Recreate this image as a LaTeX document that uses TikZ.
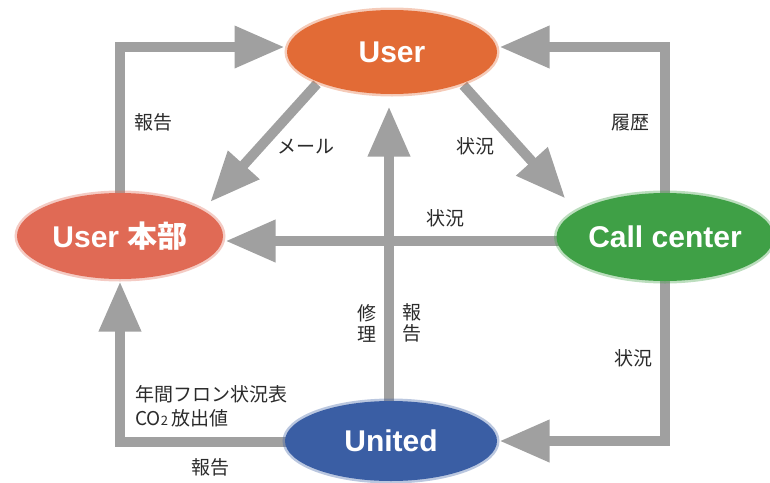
\documentclass[tikz,border=0pt]{standalone}
\usepackage{fontspec}
\setmainfont{Liberation Sans}
\newfontfamily\jp{Noto Sans CJK JP}
\usetikzlibrary{shapes.geometric,arrows.meta,backgrounds}
\definecolor{cuser}{HTML}{E26B36}
\definecolor{chq}{HTML}{E06A55}
\definecolor{ccall}{HTML}{3FA046}
\definecolor{cunited}{HTML}{3A5EA4}
\definecolor{carrow}{HTML}{A0A0A0}
\definecolor{ctext}{HTML}{2B2B2B}
\tikzset{
  blob/.style={ellipse, fill=#1, draw=#1, draw opacity=0.35, line width=5pt, inner sep=0pt,
    text=white, font=\fontsize{30}{30}\selectfont\bfseries},
  arr/.style={draw=carrow, line width=10pt,
    -{Triangle[length=50pt,width=40pt,fill=carrow]}},
  lbl/.style={text=ctext, font=\jp\fontsize{19}{21}\selectfont, inner sep=0pt, align=center},
}
\begin{document}
\begin{tikzpicture}[x=1pt,y=-1pt]
\useasboundingbox (0,0) rectangle (770,482);
\node[blob=cuser, minimum width=210pt, minimum height=84pt] (U) at (392,52) {User};
\node[blob=chq, minimum width=206pt, minimum height=86pt] (H) at (120,236) {User {\jp\bfseries 本部}};
\node[blob=ccall, minimum width=208pt, minimum height=88pt] (C) at (665,237) {Call center};
\node[blob=cunited, minimum width=212pt, minimum height=80pt] (N) at (391,441) {United};
\begin{scope}[on background layer]
\draw[arr] (H.center) |- ([yshift=5pt]U.west);
\draw[arr] (C.center) |- ([yshift=5pt]U.east);
\draw[arr, shorten >=9pt] (U.203) -- (H.18);
\draw[arr, shorten >=15pt] (U.335) -- (C.163);
\draw[arr] ([yshift=-4pt]C.center) -- ([yshift=-5pt]H.east);
\draw[arr, shorten >=10pt] ([xshift=-2pt]N.center) -- ([xshift=-3pt]U.south);
\draw[arr] ([yshift=-1pt]N.center) -| (H.south);
\draw[arr] (C.center) |- (N.east);
\end{scope}
\node[lbl] (l1) at (153,122) {報告};
\node[lbl] (l2) at (306,147) {メール};
\node[lbl] (l3) at (475,146) {状況};
\node[lbl] (l4) at (630,123) {履歴};
\node[lbl] (l5) at (445,218) {状況};
\node[lbl] (l6) at (367,323) {修\\理};
\node[lbl] (l7) at (412,323) {報\\告};
\node[lbl] (l8) at (633,358) {状況};
\node[lbl, align=left, anchor=west, font=\jp\fontsize{19}{24}\selectfont] (l9) at (135,406) {年間フロン状況表\\CO{\fontsize{13}{13}\selectfont 2}\,放出値};
\node[lbl] (l10) at (210,467) {報告};
\end{tikzpicture}
\end{document}
